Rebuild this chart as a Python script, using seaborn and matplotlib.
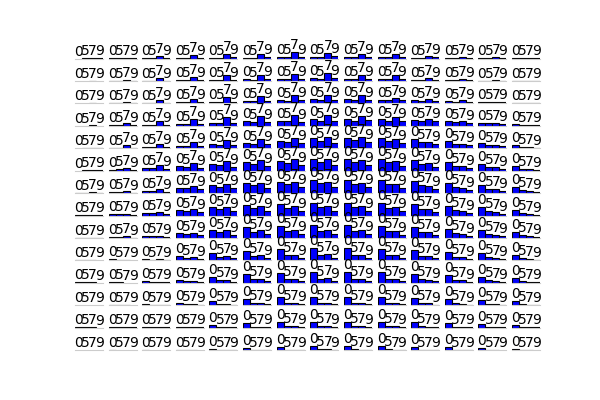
import numpy as np
import pandas as pd
import matplotlib
matplotlib.use('Agg')
import matplotlib.pyplot as plt
import seaborn as sns

# four bars per cell, labels printed over each bar
labels = ['0', '5', '7', '9']
N = None

# bar heights, one list per grid row, 14 cells each (None = no bar)
row00 = [[N,.3,.3,.3],[.3,.3,1,.3],[.3,.3,2.5,.5],[.5,.5,4,1],[1,1,5,1.5],[1,1,5,2],[2,1.5,6.5,2],
         [2,1.5,6,2.5],[2,1.5,5,2],[1.5,1.5,4.5,2],[1,1,3,1.5],[1,1,2,1],[.5,.5,1.5,1],[.3,.3,.5,.5]]
row01 = [[N,N,.3,N],[.3,.3,1,.3],[.5,.5,3,.5],[1,1,4,1],[1.5,1,6,1.5],[2,1.5,6.5,2],[2.5,2,7.5,2.5],
         [3,2.5,8,3],[2.5,2,6,2.5],[2,2,6,2.5],[1.5,1.5,3,1.5],[1,1,2.5,1],[.5,.5,1.5,.5],[.3,.3,.3,.3]]
row02 = [[N,N,.5,N],[.3,.3,1.5,.5],[.5,.5,3.5,.5],[1,1,5,1],[1.5,1,6.5,1.5],[2.5,2,7.5,2],[3,2.5,8.5,3],
         [4,3,9,3.5],[4,3,8.5,3.5],[3.5,3,6,3],[3,2.5,4.5,2.5],[2,1.5,3,1.5],[1,1,1.5,1],[.5,.5,.5,.3]]
row03 = [[N,N,.5,N],[.5,.5,2.5,.5],[.5,.5,5,1],[1.5,1.5,6.5,2],[3,2.5,8.5,2.5],[4.5,3.5,9.5,3.5],[5,4.5,10.5,4],
         [7,5,11,5],[7,5,10,5.5],[7,5,9,5],[6,5,7,4.5],[5,4,4.5,3],[3,2.5,2.5,1.5],[1.5,1,1,.5]]
row04 = [[N,.3,.5,.3],[.5,.5,3,.5],[1.5,1.5,4,1],[2,2,6.5,2],[4,3.5,8.5,3],[5,4.5,9.5,4],[7.5,6,10.5,5],
         [10,7.5,11,5.5],[10,8,11,6],[10,7,9,5],[9,6,6.5,4],[7,4.5,4.5,3],[5,3,3,2],[3,1.5,1,.5]]
row05 = [[N,.5,1,.3],[1,1.5,2.5,.5],[2.5,2.5,6,2],[5,4,7.5,3],[7,6,9.5,4],[8.5,6.5,10.5,5],[10,8,11.5,5.5],
         [12,9,12,6],[12,9,11,6],[12,8.5,9.5,5],[11,7,7.5,4],[9,5,5,3],[7,3.5,3.5,2],[5,2,1.5,1]]
row06 = [[.3,.3,1,.3],[1,1,2.5,.5],[2.5,2.5,4.5,1.5],[5.5,5,7.5,4],[8,6.5,9,5],[10,8,10,5.5],[11,9,11,6],
         [13,10,11,6],[13,9.5,10.5,6],[13,9,9.5,5],[12,8,7.5,4],[10,6,5,3],[8,4,4,2],[6,3,2.5,1]]
row07 = [[.5,.5,.5,.3],[1.5,1.5,2,.5],[3,3,4,1.5],[6,5,7,4],[8.5,7,9,4.5],[11,7.5,10,4.5],[12,7.5,10,4.5],
         [13,9,10,5],[13,9,9.5,5],[13,8,8.5,4.5],[12,7,7,3.5],[10,6,5,3],[8.5,4.5,3.5,2],[6,3,2,1]]
row08 = [[.3,.3,.3,.3],[.5,.5,1.5,.3],[2,2,2,1],[5,4,5,3],[8,5.5,7.5,3],[10.5,6,7.5,3.5],[11.5,6.5,8,3.5],
         [12.5,7,8,4],[12.5,7,7.5,3.5],[12,6.5,6.5,3],[11,5.5,5.5,3],[9,4.5,4,2],[7.5,3.5,2.5,1.5],[6,2.5,2,1]]
row09 = [[.3,.3,.3,N],[1,.3,.3,N],[1.5,.5,1,.5],[4,2.5,3,1.5],[7,3.5,4,2],[9.5,4.5,5,2],[11,5,5.5,2.5],
         [12,5.5,6,2.5],[12,5.5,5.5,2.5],[11,5,5,2],[10,4.5,4.5,2],[8,3.5,3,1.5],[7,3,2,1],[5.5,2,1.5,.5]]
row10 = [[.3,.3,.3,N],[1,.3,N,N],[1.5,.5,.5,.3],[3,1.5,1.5,1],[6,2.5,2.5,1],[8.5,3.5,3.5,1.5],[10,4,4,1.5],
         [11,4,4.5,2],[11,4,4,2],[10.5,4,3.5,1.5],[9,3.5,3,1.5],[7.5,3,2.5,1],[6,2.5,1.5,.5],[5,1.5,1,.3]]
row11 = [[N,N,N,N],[.3,.3,.3,N],[1,.3,.3,.3],[2,1,1,.5],[4.5,1.5,1.5,.5],[6.5,2,2,1],[8,2.5,2.5,1],
         [8.5,2.5,2.5,1],[8.5,2.5,2.5,1],[8,2.5,2,1],[7,2,2,.5],[6,2,1.5,.5],[5,1.5,1,.3],[4,1,.5,.3]]
row12 = [[.3,.3,.3,N],[.3,.3,.3,.3],[.5,.3,.3,.3],[1,.5,.5,.3],[3,1,1,.3],[4.5,1,1,.5],[5.5,1.5,1.5,.5],
         [6,1.5,1.5,.5],[6,1.5,1.5,.5],[6,1.5,1.5,.5],[5.5,1.5,1,.5],[5,1,1,.3],[4,1,.5,.3],[3,.5,.5,.3]]
row13 = [[N,N,N,N],[.3,N,N,N],[.3,N,N,N],[.5,.3,.3,N],[1.5,.3,.3,.3],[2.5,.5,.5,.3],[3.5,.5,.5,.3],
         [4,1,1,.3],[4,1,.5,.3],[4,1,.5,.3],[3.5,.5,.5,.3],[3,.5,.5,.3],[2,.3,.3,N],[1,.3,.3,N]]

grid = [row00, row01, row02, row03, row04, row05, row06,
        row07, row08, row09, row10, row11, row12, row13]
nrows, ncols = len(grid), len(grid[0])

fig, axs = plt.subplots(nrows, ncols, figsize=(6, 4), dpi=100)
plt.subplots_adjust(left=0.125, right=0.9, bottom=0.125, top=0.9, wspace=0.2, hspace=0.2)

for r in range(nrows):
    for c in range(ncols):
        ax = axs[r, c]
        vals = np.array([np.nan if v is None else v for v in grid[r][c]], dtype=float)
        d = pd.DataFrame({'lab': labels, 'h': vals}).dropna()
        if len(d):
            sns.barplot(data=d, x='lab', y='h', order=labels, color='blue', saturation=1,
                        width=1, edgecolor='black', linewidth=0.8, errorbar=None, ax=ax)
        ax.set_xlim(-0.5, 3.5)
        ax.set_ylim(0, 18.7)
        for i, lab in enumerate(labels):
            y = 0 if np.isnan(vals[i]) else vals[i]
            ax.text(i, y, lab, ha='center', va='bottom', fontsize=10, color='black')
        ax.set_xticks([])
        ax.set_yticks([])
        ax.set_xlabel('')
        ax.set_ylabel('')
        for s in ['top', 'left', 'right']:
            ax.spines[s].set_visible(False)
        ax.spines['bottom'].set_color('#cccccc')

plt.savefig('out.png', dpi=100)
